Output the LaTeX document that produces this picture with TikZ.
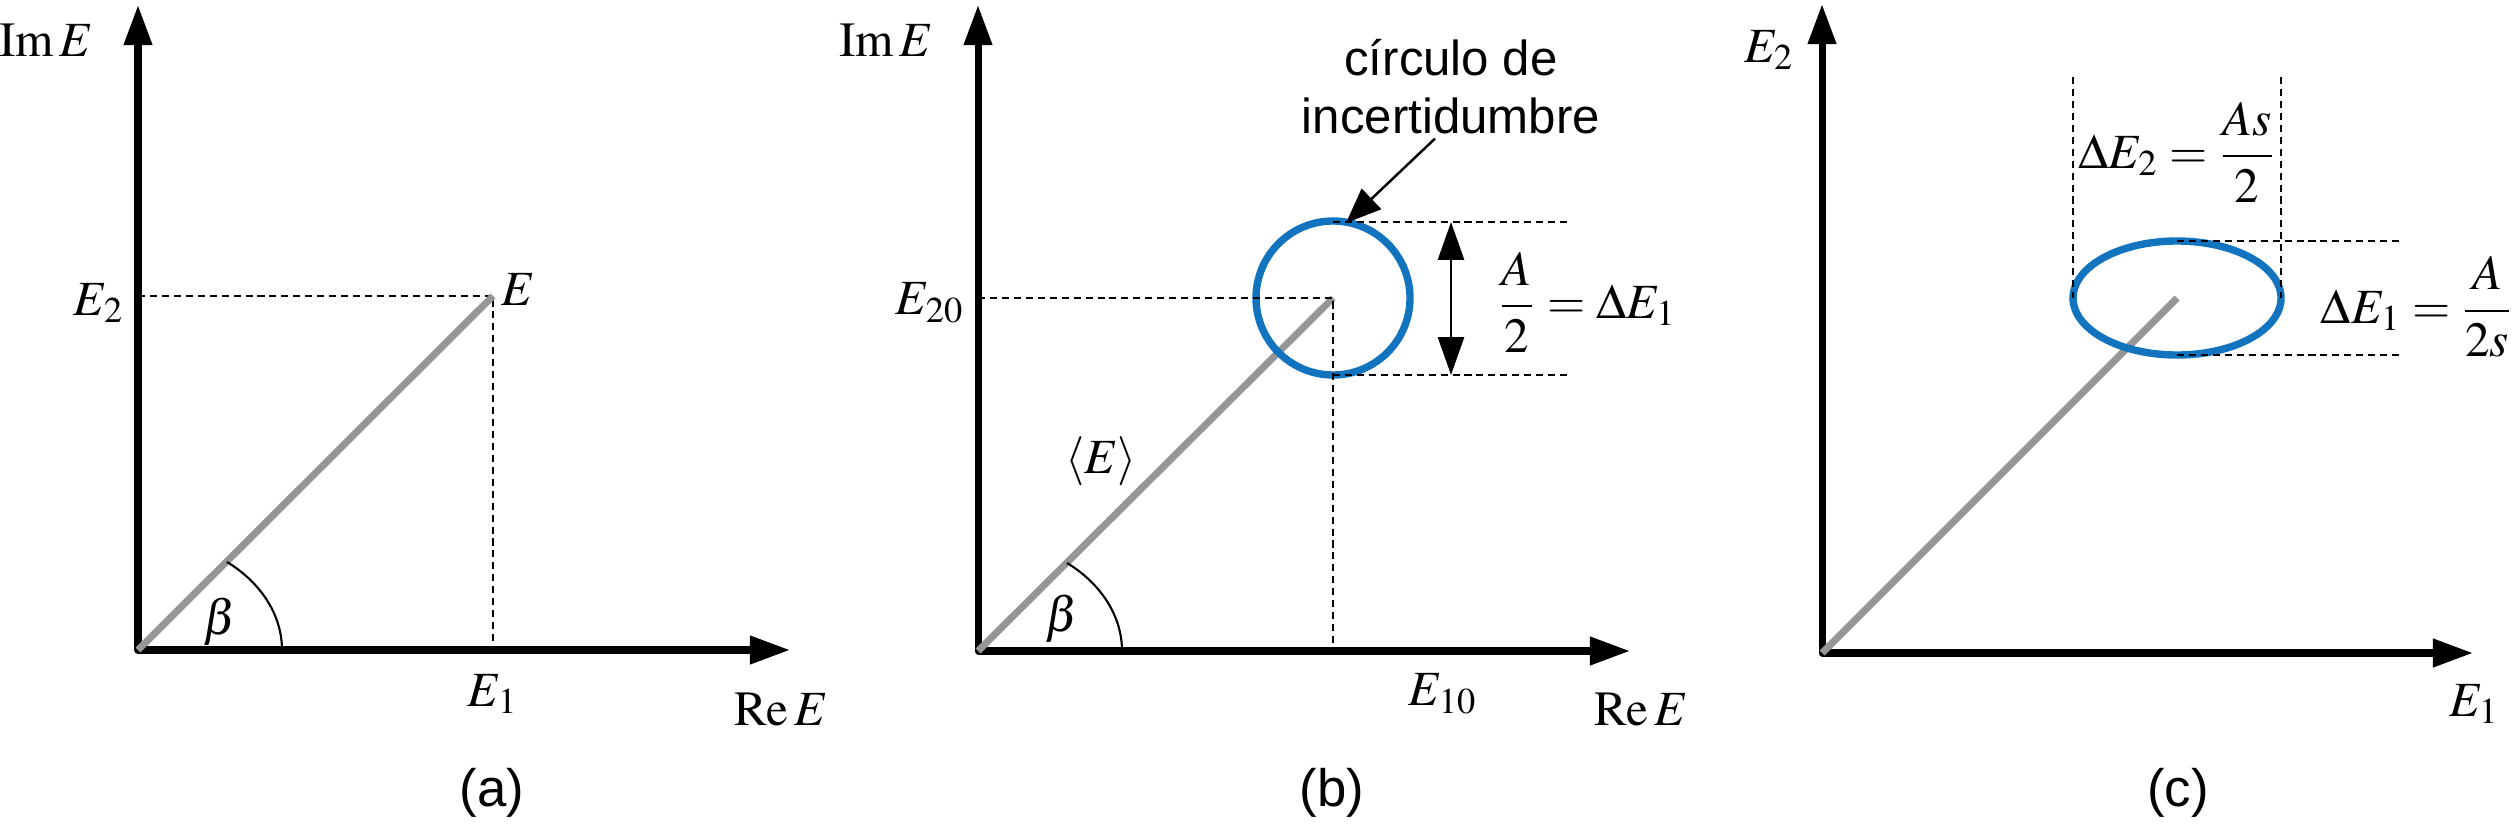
\documentclass[tikz,border=0pt]{standalone}
\usepackage{mathptmx}
\usepackage{fontspec}
\setmainfont{Liberation Serif}
\setsansfont{Liberation Sans}
\usepackage{tikz}
\usetikzlibrary{calc, arrows.meta}
\definecolor{uncblue}{RGB}{18,115,190}
\definecolor{raygray}{RGB}{150,150,152}

\begin{document}
\begin{tikzpicture}[x=0.1mm,y=-0.1mm,font=\fontsize{14}{16.5}\selectfont]
\tikzstyle{axes}=[line width=2pt,line join=round,{Triangle[length=11.4pt,width=7.7pt]}-{Triangle[length=11.4pt,width=7.7pt]}]
\tikzstyle{ray}=[line width=2pt,raygray]
\tikzstyle{proj}=[line width=0.8pt,dash pattern=on 2pt off 1.4pt]
\tikzstyle{unc}=[line width=2.1pt,uncblue]
\tikzstyle{betaarc}=[line width=0.6pt]
\tikzstyle{dimarrow}=[line width=0.8pt,{Triangle[length=10.8pt,width=7.4pt]}-{Triangle[length=10.8pt,width=7.4pt]}]
\tikzstyle{call}=[line width=0.7pt,-{Triangle[length=10pt,width=8pt]}]
\tikzstyle{sans}=[font=\sffamily\fontsize{14}{16.5}\selectfont]
\tikzstyle{panel}=[font=\sffamily\fontsize{15}{18}\selectfont]
\useasboundingbox (0,0) rectangle (2516,825);

\coordinate (O_a) at (138,650);
\coordinate (X_a) at (790,650);
\coordinate (Y_a) at (138,5);
\coordinate (E_a) at (493,296);
\draw[axes] (Y_a) -- (O_a) -- (X_a);
\draw[proj] (O_a |- E_a) -- (E_a) -- (E_a |- O_a);
\draw[ray] (O_a) -- (E_a);
\draw[betaarc] (O_a) ++(144,0) arc[start angle=0,end angle=-51.8,x radius=144,y radius=112];
\node (Im_a) at (46,40) {$\mathrm{Im}\,E$};
\node (Re_a) at (781,709) {$\mathrm{Re}\,E$};
\node (E2_a) at (99,303) {$E_2$};
\node (Etip_a) at (518,290) {$E$};
\node (E1_a) at (493,694) {$E_1$};
\node (beta_a) at (220,622) {$\beta$};
\node[panel] (cap_a) at (492,793) {(a)};

\coordinate (O_b) at (978,651);
\coordinate (X_b) at (1630,651);
\coordinate (Y_b) at (978,5);
\coordinate (C_b) at (1333,298);
\coordinate (T_b) at (1333,222);
\coordinate (B_b) at (1333,375);
\coordinate (Tr_b) at (1568,222);
\coordinate (Br_b) at (1568,375);
\coordinate (DT_b) at (1451,222);
\coordinate (DB_b) at (1451,375);
\coordinate (P_b) at (1346,223);
\draw[axes] (Y_b) -- (O_b) -- (X_b);
\draw[ray] (O_b) -- (C_b);
\draw[unc] (C_b) circle[radius=77];
\draw[proj] (O_b |- C_b) -- (C_b) -- (C_b |- O_b);
\draw[proj] (T_b) -- (Tr_b);
\draw[proj] (B_b) -- (Br_b);
\draw[dimarrow] (DT_b) -- (DB_b);
\draw[betaarc] (O_b) ++(144,0) arc[start angle=0,end angle=-51.8,x radius=144,y radius=112];
\node[sans,align=center,inner sep=1pt] (circ_b) at (1451,87) {círculo de\\incertidumbre};
\draw[call] ([xshift=-1.6mm]circ_b.south) -- (P_b);
\node (Im_b) at (886,40) {$\mathrm{Im}\,E$};
\node (Re_b) at (1641,709) {$\mathrm{Re}\,E$};
\node (E20_b) at (930,303) {$E_{20}$};
\node (E10_b) at (1443,694) {$E_{10}$};
\node (mean_b) at (1101,461) {$\langle E\rangle$};
\node (beta_b) at (1062,619) {$\beta$};
\node (dE1_b) at (1587,302) {$\displaystyle\frac{A}{2}=\Delta E_1$};
\node[panel] (cap_b) at (1332,793) {(b)};

\coordinate (O_c) at (1822,653);
\coordinate (X_c) at (2473,653);
\coordinate (Y_c) at (1822,4);
\coordinate (C_c) at (2177,298);
\coordinate (Lt_c) at (2073,77);
\coordinate (Lb_c) at (2073,298);
\coordinate (Rt_c) at (2281,77);
\coordinate (Rb_c) at (2281,298);
\coordinate (T_c) at (2177,241);
\coordinate (Tr_c) at (2399,241);
\coordinate (B_c) at (2177,355);
\coordinate (Br_c) at (2399,355);
\draw[axes] (Y_c) -- (O_c) -- (X_c);
\draw[ray] (O_c) -- (C_c);
\draw[unc] (C_c) ellipse[x radius=104,y radius=57];
\draw[proj] (Lt_c) -- (Lb_c);
\draw[proj] (Rt_c) -- (Rb_c);
\draw[proj] (T_c) -- (Tr_c);
\draw[proj] (B_c) -- (Br_c);
\node (E2_c) at (1769,50) {$E_2$};
\node (E1_c) at (2474,704) {$E_1$};
\node (dE2_c) at (2177,152) {$\displaystyle\Delta E_2=\frac{As}{2}$};
\node[anchor=east,inner sep=0pt] (dE1_c) at (2514,307) {$\displaystyle\Delta E_1=\frac{A}{2s}$};
\node[panel] (cap_c) at (2178,793) {(c)};
\end{tikzpicture}
\end{document}
